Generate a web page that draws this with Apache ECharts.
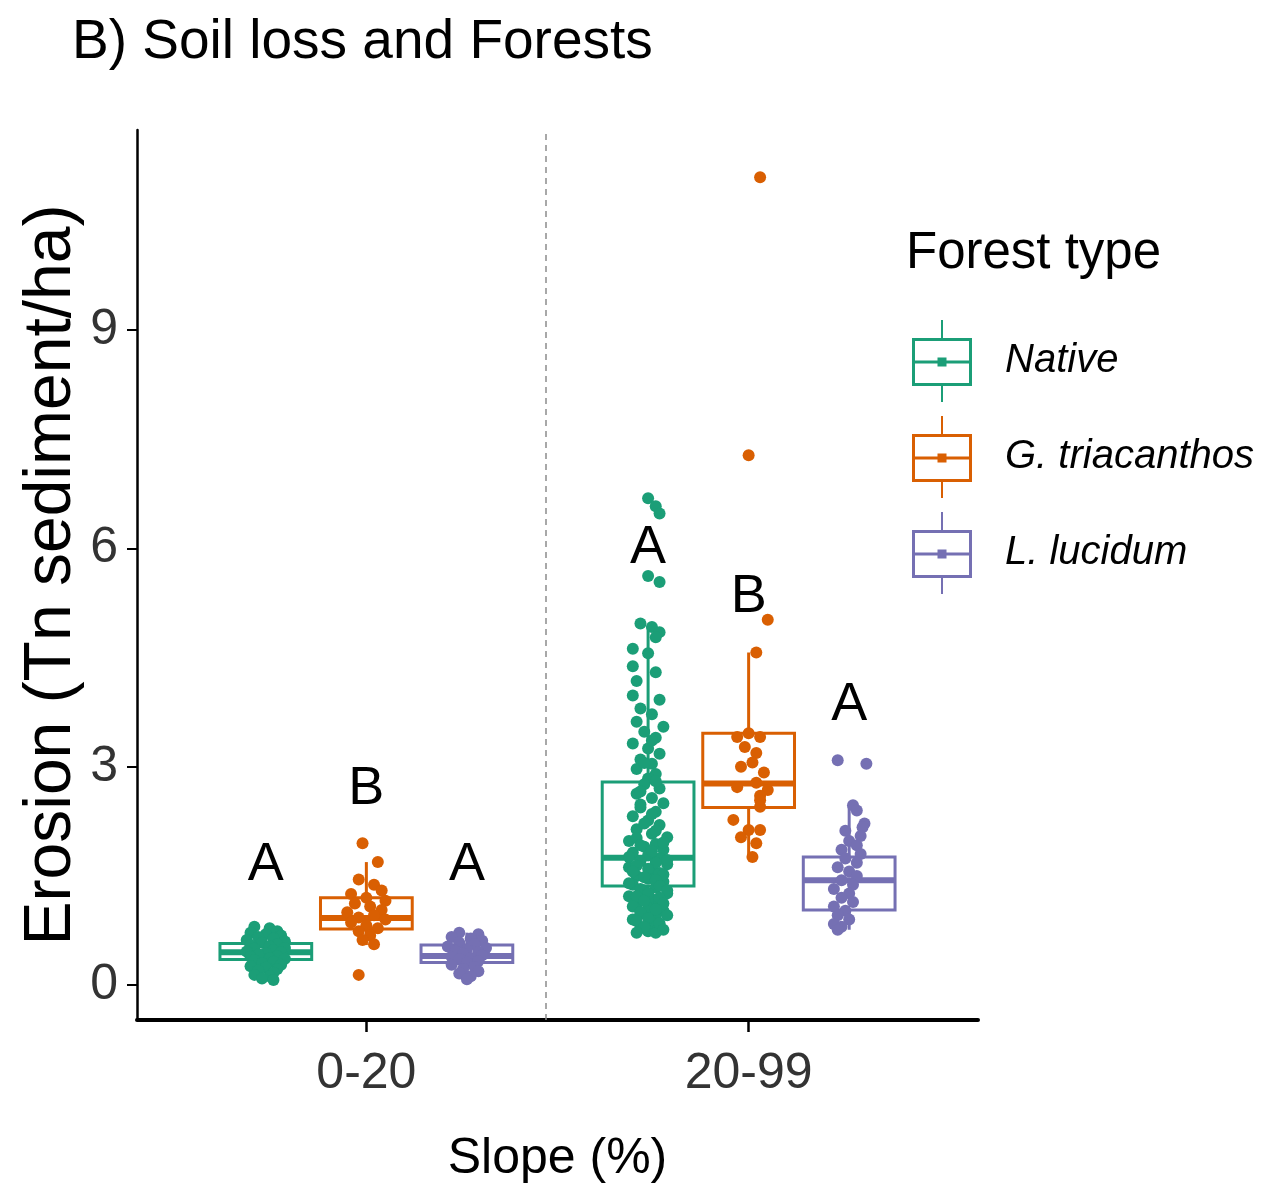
<!DOCTYPE html>
<html>
<head>
<meta charset="utf-8">
<script src="https://cdn.jsdelivr.net/npm/echarts@6/dist/echarts.min.js"></script>
<style>
html,body{margin:0;padding:0;background:#fff;}
#chart{width:1281px;height:1196px;}
</style>
</head>
<body>
<div id="chart"></div>
<script>
// ---------------- data ----------------
const categories = ['0-20', '20-99'];
const forestTypes = ['Native', 'G. triacanthos', 'L. lucidum'];
const yTicks = [0, 3, 6, 9];

// box statistics per slope class: [lower whisker, Q1, median, Q3, upper whisker]
const nativeBox = [[0.10, 0.35, 0.45, 0.57, 0.80], [0.72, 1.36, 1.75, 2.79, 4.92]];
const gtriBox   = [[0.55, 0.77, 0.92, 1.20, 1.69], [1.76, 2.44, 2.77, 3.46, 4.57]];
const llucBox   = [[0.08, 0.31, 0.40, 0.55, 0.72], [0.76, 1.03, 1.44, 1.76, 2.47]];

// jittered observations per slope class: [horizontal jitter, erosion]
const nativePts0 = [[-0.03,0.80],[0.01,0.78],[0.03,0.74],[-0.04,0.72],[0.00,0.70],[0.04,0.68],[-0.02,0.66],[0.02,0.64],[-0.05,0.62],[0.05,0.60],[-0.01,0.58],[0.03,0.56],[-0.04,0.55],[0.01,0.53],[0.05,0.51],[-0.03,0.50],[0.02,0.48],[-0.05,0.46],[0.04,0.45],[0.00,0.44],[-0.02,0.42],[0.03,0.40],[-0.04,0.39],[0.01,0.37],[0.05,0.36],[-0.03,0.34],[0.02,0.32],[-0.01,0.30],[0.04,0.28],[-0.04,0.26],[0.00,0.24],[0.03,0.22],[-0.02,0.20],[0.02,0.17],[-0.03,0.14],[0.01,0.12],[-0.01,0.09],[0.02,0.07]];
const nativePts1 = [[0.00,6.69],[0.02,6.58],[0.03,6.48],[0.00,5.62],[0.03,5.54],[-0.02,4.97],[0.01,4.92],[0.03,4.85],[0.02,4.78],[-0.04,4.62],[0.00,4.56],[-0.04,4.38],[0.02,4.30],[-0.03,4.18],[-0.04,3.98],[0.03,3.92],[-0.02,3.80],[0.01,3.72],[-0.03,3.62],[0.04,3.55],[-0.01,3.48],[0.02,3.40],[-0.04,3.32],[0.00,3.25],[0.03,3.18],[-0.02,3.10],[0.01,3.04],[-0.03,2.97],[0.02,2.90],[0.00,2.84],[-0.01,2.76],[0.03,2.70],[-0.03,2.63],[0.01,2.57],[0.04,2.50],[-0.02,2.44],[0.02,2.38],[-0.04,2.32],[0.00,2.26],[0.03,2.20],[-0.03,2.14],[0.01,2.08],[0.05,2.03],[-0.05,1.98],[0.02,1.94],[-0.01,1.90],[0.04,1.86],[-0.04,1.82],[0.00,1.78],[0.03,1.74],[-0.02,1.70],[0.05,1.66],[-0.05,1.62],[0.01,1.58],[0.03,1.54],[-0.03,1.50],[0.00,1.46],[0.04,1.42],[-0.04,1.38],[0.02,1.34],[-0.01,1.30],[0.05,1.26],[-0.05,1.22],[0.01,1.18],[0.03,1.14],[-0.03,1.10],[0.00,1.06],[0.04,1.02],[-0.02,0.98],[0.02,0.94],[-0.04,0.90],[0.01,0.86],[0.03,0.82],[-0.02,0.78],[0.00,0.74],[0.02,0.72],
  [-0.02,2.48],[0.01,2.35],[-0.01,2.22],[0.02,2.12],[-0.03,2.02],[0.04,1.96],[-0.02,1.92],[0.01,1.84],[-0.05,1.76],[0.05,1.72],[0.02,1.68],[-0.03,1.64],[0.00,1.60],[-0.04,1.56],[0.04,1.52],[-0.01,1.48],[0.02,1.44],[-0.05,1.40],[0.03,1.36],[-0.02,1.32],[0.05,1.30],[0.00,1.26],[-0.03,1.22],[0.03,1.20],[-0.01,1.16],[0.04,1.12],[-0.04,1.08],[0.02,1.04],[-0.02,1.00],[0.05,0.96],[0.00,0.92],[-0.03,0.88],[0.03,0.85],[-0.01,0.80],[0.04,0.76],[-0.03,0.72],[0.01,3.36],[-0.01,3.05],[0.02,2.80],[-0.02,2.66]];
const gtriPts0 = [[-0.01,1.95],[0.03,1.69],[-0.02,1.45],[0.02,1.38],[0.04,1.30],[-0.04,1.25],[0.00,1.20],[0.05,1.16],[-0.03,1.12],[0.01,1.08],[0.04,1.03],[-0.05,1.00],[0.02,0.96],[-0.02,0.93],[0.05,0.90],[-0.04,0.86],[0.00,0.82],[0.03,0.78],[-0.02,0.74],[0.01,0.68],[-0.01,0.62],[0.02,0.56],[-0.02,0.14]];
const gtriPts1 = [[0.03,11.10],[0.00,7.28],[0.05,5.02],[0.02,4.57],[-0.03,3.41],[0.00,3.46],[0.03,3.41],[-0.01,3.27],[0.02,3.19],[0.01,3.06],[-0.02,3.00],[0.04,2.92],[0.02,2.78],[-0.03,2.72],[0.05,2.68],[0.03,2.60],[0.03,2.54],[0.03,2.45],[-0.04,2.27],[0.00,2.13],[0.03,2.13],[-0.02,2.03],[0.02,1.95],[0.01,1.76]];
const llucPts0 = [[-0.02,0.72],[0.03,0.70],[-0.04,0.66],[0.01,0.64],[0.04,0.61],[-0.02,0.58],[0.02,0.56],[-0.05,0.53],[0.05,0.51],[0.00,0.49],[-0.03,0.47],[0.03,0.45],[-0.01,0.43],[0.04,0.41],[-0.04,0.39],[0.01,0.37],[-0.02,0.35],[0.03,0.33],[0.00,0.31],[-0.04,0.28],[0.02,0.25],[-0.01,0.22],[0.03,0.19],[-0.02,0.16],[0.01,0.12],[0.00,0.08]];
const llucPts1 = [[-0.03,3.09],[0.045,3.04],[0.01,2.47],[0.02,2.40],[0.04,2.22],[0.035,2.17],[-0.01,2.12],[0.03,2.05],[0.00,1.98],[0.02,1.92],[-0.02,1.86],[0.03,1.80],[-0.01,1.74],[0.02,1.68],[-0.03,1.62],[0.00,1.56],[0.02,1.50],[-0.02,1.44],[0.01,1.38],[-0.04,1.32],[0.00,1.26],[-0.02,1.20],[0.01,1.14],[-0.04,1.08],[-0.01,1.02],[-0.03,0.96],[0.00,0.90],[-0.04,0.84],[-0.02,0.80],[-0.03,0.76]];

// significance letters per forest type and slope class, and their heights
const nativeLetters = ['A', 'A'];
const gtriLetters   = ['B', 'B'];
const llucLetters   = ['A', 'A'];
const nativeLetterY = [1.65, 6.00];
const gtriLetterY   = [2.69, 5.33];
const llucLetterY   = [1.65, 3.85];

// ---------------- styling / layout ----------------
const colors = ['#1b9e77', '#d95f02', '#7570b3'];
const FONT = "'Liberation Sans', Arial, sans-serif";
const DODGE = 0.263;     // horizontal offset between dodged groups
const BOX_W = 0.24;      // box width in axis units
const offsets = [-DODGE, 0, DODGE];

const groups = [
  {box: nativeBox, pts: [nativePts0, nativePts1], letters: nativeLetters, letterY: nativeLetterY},
  {box: gtriBox,   pts: [gtriPts0, gtriPts1],     letters: gtriLetters,   letterY: gtriLetterY},
  {box: llucBox,   pts: [llucPts0, llucPts1],     letters: llucLetters,   letterY: llucLetterY}
];

const LEGEND_ICON = 'path://' +
  'M29 0L31 0L31 18L29 18Z' +
  'M0 18L60 18L60 21L0 21Z' +
  'M0 63L60 63L60 66L0 66Z' +
  'M0 18L3 18L3 66L0 66Z' +
  'M57 18L60 18L60 66L57 66Z' +
  'M0 40.5L60 40.5L60 43.5L0 43.5Z' +
  'M25.5 37.5L34.5 37.5L34.5 46.5L25.5 46.5Z' +
  'M29 66L31 66L31 82L29 82Z';

function renderBox(params, api) {
  const x = api.value(0);
  const low = api.coord([x, api.value(1)]);
  const q1 = api.coord([x, api.value(2)]);
  const med = api.coord([x, api.value(3)]);
  const q3 = api.coord([x, api.value(4)]);
  const high = api.coord([x, api.value(5)]);
  const hw = api.size([BOX_W, 0])[0] / 2;
  const color = api.visual('color');
  return {
    type: 'group',
    children: [
      {type: 'line', shape: {x1: high[0], y1: high[1], x2: q3[0], y2: q3[1]}, style: {stroke: color, lineWidth: 3}},
      {type: 'line', shape: {x1: low[0], y1: low[1], x2: q1[0], y2: q1[1]}, style: {stroke: color, lineWidth: 3}},
      {type: 'rect', shape: {x: q3[0] - hw, y: q3[1], width: 2 * hw, height: q1[1] - q3[1]}, style: {fill: '#ffffff', stroke: color, lineWidth: 3}},
      {type: 'line', shape: {x1: med[0] - hw, y1: med[1], x2: med[0] + hw, y2: med[1]}, style: {stroke: color, lineWidth: 6}}
    ]
  };
}

const series = [];
groups.forEach((g, k) => {
  series.push({
    name: forestTypes[k],
    type: 'custom',
    renderItem: renderBox,
    itemStyle: {color: colors[k]},
    dimensions: ['x', 'low', 'q1', 'med', 'q3', 'high'],
    encode: {x: 0, y: [1, 2, 3, 4, 5]},
    data: g.box.map((b, i) => [i + 1 + offsets[k]].concat(b)),
    z: 2,
    silent: true
  });
});
groups.forEach((g, k) => {
  const data = [];
  g.pts.forEach((arr, i) => arr.forEach(p => data.push([i + 1 + offsets[k] + p[0], p[1]])));
  series.push({
    name: forestTypes[k],
    type: 'scatter',
    symbol: 'circle',
    symbolSize: 12,
    itemStyle: {color: colors[k], opacity: 1},
    emphasis: {disabled: true},
    data: data,
    z: 3,
    silent: true
  });
});
// significance letters
const letterTexts = [];
const letterData = [];
groups.forEach((g, k) => {
  g.letters.forEach((t, i) => {
    letterTexts.push(t);
    letterData.push([i + 1 + offsets[k], g.letterY[i]]);
  });
});
series.push({
  name: 'letters',
  type: 'custom',
  data: letterData,
  encode: {x: 0, y: 1},
  z: 4,
  silent: true,
  renderItem: function (params, api) {
    const p = api.coord([api.value(0), api.value(1)]);
    return {
      type: 'text', x: p[0], y: p[1],
      style: {text: letterTexts[params.dataIndex], fontSize: 54, fontFamily: FONT, fill: '#000', align: 'center', verticalAlign: 'middle'}
    };
  }
});
// dashed separator between slope classes
series.push({
  name: 'separator',
  type: 'scatter',
  data: [],
  markLine: {
    silent: true, symbol: 'none', animation: false,
    label: {show: false},
    lineStyle: {type: [6, 5], color: '#8c8c8c', width: 1.5},
    data: [{xAxis: 1.47}]
  }
});

const chart = echarts.init(document.getElementById('chart'), null, {renderer: 'canvas'});
chart.setOption({
  animation: false,
  backgroundColor: '#ffffff',
  title: [
    {text: 'B) Soil loss and Forests', left: 72, top: 15, padding: 0,
     textStyle: {fontSize: 55, fontWeight: 'normal', fontFamily: FONT, color: '#000'}},
    {text: 'Forest type', left: 906, top: 228, padding: 0,
     textStyle: {fontSize: 51, fontWeight: 'normal', fontFamily: FONT, color: '#000'}}
  ],
  legend: {
    orient: 'vertical', left: 912, top: 320, padding: 0,
    itemWidth: 60, itemHeight: 82, itemGap: 14,
    selectedMode: false,
    data: forestTypes.map(n => ({name: n, icon: LEGEND_ICON})),
    itemStyle: {borderWidth: 0},
    textStyle: {fontSize: 40, fontStyle: 'italic', fontFamily: FONT, color: '#000', padding: [0, 0, 0, 28]}
  },
  grid: {left: 137, right: 303, top: 130, bottom: 176, containLabel: false},
  xAxis: {
    type: 'value', min: 0.4, max: 2.6,
    name: 'Slope (%)', nameLocation: 'middle', nameGap: 114, nameMoveOverlap: false,
    nameTextStyle: {fontSize: 50, fontFamily: FONT, color: '#000'},
    splitLine: {show: false},
    axisLine: {show: true, onZero: false, lineStyle: {color: '#000', width: 4}},
    axisTick: {show: true, customValues: [1, 2], length: 12, lineStyle: {color: '#000', width: 2.5}},
    axisLabel: {customValues: [1, 2], formatter: v => categories[Math.round(v) - 1], fontSize: 50, fontFamily: FONT, color: '#333', margin: 29}
  },
  yAxis: {
    type: 'value', min: -0.48, max: 11.75,
    name: 'Erosion (Tn sediment/ha)', nameLocation: 'middle', nameGap: 52, nameMoveOverlap: false,
    nameTextStyle: {fontSize: 66, fontFamily: FONT, color: '#000'},
    splitLine: {show: false},
    axisLine: {show: true, onZero: false, lineStyle: {color: '#000', width: 2.5}},
    axisTick: {show: true, customValues: yTicks, length: 10, lineStyle: {color: '#000', width: 2}},
    axisLabel: {customValues: yTicks, fontSize: 50, fontFamily: FONT, color: '#333', margin: 19}
  },
  series: series
});
</script>
</body>
</html>
